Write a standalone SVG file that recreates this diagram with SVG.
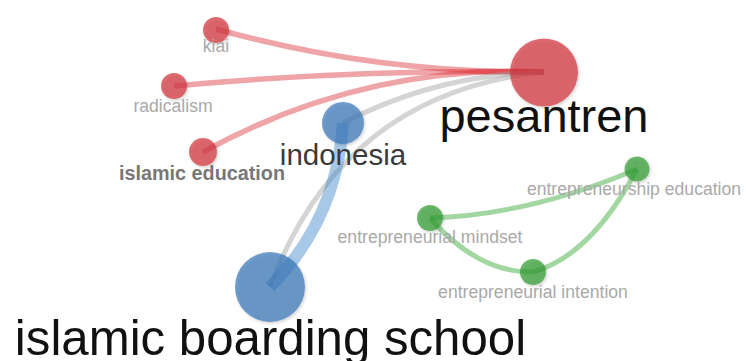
<svg xmlns="http://www.w3.org/2000/svg" width="746" height="361" viewBox="0 0 746 361">
  <defs>
    <filter id="shadow" x="-30%" y="-30%" width="160%" height="160%">
      <feDropShadow dx="1.2" dy="1.5" stdDeviation="1.5" flood-color="#000" flood-opacity="0.25"/>
    </filter>
    <style>
      .edge { fill: none; stroke-linecap: butt; }
      .e-red { stroke: #d8262e; stroke-opacity: 0.42; stroke-width: 5.5; }
      .e-gray { stroke: #a0a0a0; stroke-opacity: 0.45; stroke-width: 5; }
      .e-blue { stroke: #3f86cc; stroke-opacity: 0.45; stroke-width: 12; }
      .e-green { stroke: #45b045; stroke-opacity: 0.5; stroke-width: 5; }
      .node { fill-opacity: 0.7; filter: url(#shadow); }
      .red { fill: #d1343b; }
      .blue { fill: #3777b8; }
      .green { fill: #309b30; }
      text { font-family: "Liberation Sans", Arial, sans-serif; text-anchor: middle; }
      .small { fill: #a9a9a9; font-size: 17.6px; }
      .bold { fill: #777777; font-size: 19.8px; font-weight: bold; }
      .mid { fill: #3a3a3a; font-size: 29.5px; }
      .big { fill: #111111; font-size: 47px; }
      .bigger { fill: #111111; font-size: 49.2px; }
    </style>
  </defs>
  <rect width="746" height="361" fill="#ffffff"/>

  <g id="connectors">
    <!-- links into pesantren -->
    <path class="edge e-red" d="M216,29 Q377,74 544,72"/>
    <path class="edge e-red" d="M174,86 Q359,69 544,72"/>
    <path class="edge e-red" d="M203,152 Q363,64 544,72"/>
    <path class="edge e-gray" d="M343,123 Q438,74 544,72"/>
    <path class="edge e-gray" d="M270,287 Q342,93 544,72"/>
    <!-- indonesia to islamic boarding school -->
    <path class="edge e-blue" d="M270,287 Q337,219 343,123"/>
    <!-- entrepreneurship cluster -->
    <path class="edge e-green" d="M430,218 Q530,215 637,169"/>
    <path class="edge e-green" d="M430,218 Q478,273 533,272"/>
    <path class="edge e-green" d="M533,272 Q592,255 637,169"/>
  </g>

  <g id="node-kiai">
    <circle class="node red" cx="216" cy="30" r="13"/>
    <text class="small" x="216" y="52">kiai</text>
  </g>
  <g id="node-radicalism">
    <circle class="node red" cx="174" cy="86" r="13"/>
    <text class="small" x="173" y="112">radicalism</text>
  </g>
  <g id="node-islamic-education">
    <circle class="node red" cx="203" cy="152" r="14"/>
    <text class="bold" x="202" y="180">islamic education</text>
  </g>
  <g id="node-pesantren">
    <circle class="node red" cx="544" cy="72.5" r="34"/>
    <text class="big" x="544" y="132">pesantren</text>
  </g>
  <g id="node-indonesia">
    <circle class="node blue" cx="343" cy="123" r="21"/>
    <text class="mid" x="343" y="165">indonesia</text>
  </g>
  <g id="node-islamic-boarding-school">
    <circle class="node blue" cx="270" cy="287" r="35"/>
    <text class="bigger" x="270.5" y="355">islamic boarding school</text>
  </g>
  <g id="node-entrepreneurship-education">
    <circle class="node green" cx="637" cy="169" r="12.5"/>
    <text class="small" x="634" y="195">entrepreneurship education</text>
  </g>
  <g id="node-entrepreneurial-mindset">
    <circle class="node green" cx="430" cy="218" r="13"/>
    <text class="small" x="430" y="243">entrepreneurial mindset</text>
  </g>
  <g id="node-entrepreneurial-intention">
    <circle class="node green" cx="533" cy="272" r="13"/>
    <text class="small" x="533" y="298">entrepreneurial intention</text>
  </g>
</svg>
